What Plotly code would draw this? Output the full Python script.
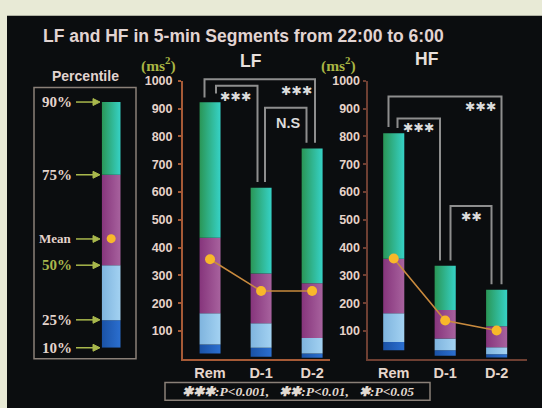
import plotly.graph_objects as go

W, H = 542, 408

categories = ["Rem", "D-1", "D-2"]
tick_vals_y = [100, 200, 300, 400, 500, 600, 700, 800, 900, 1000]

lf_p10 = [19, 8, 4]
lf_p25 = [52, 40, 19]
lf_p50 = [164, 128, 75]
lf_p75 = [435, 307, 272]
lf_p90 = [923, 615, 756]
lf_mean = [358, 244, 244]

hf_p10 = [31, 11, 5]
hf_p25 = [61, 31, 17]
hf_p50 = [164, 73, 42]
hf_p75 = [360, 176, 117]
hf_p90 = [811, 335, 248]
hf_mean = [361, 138, 102]

# schematic legend bar levels (10, 25, 50, 75, 90 percentile) and mean
legend_levels = [0, 28, 84, 176, 250]
legend_mean = 111

seg_colors = [
    ("#1a52a6", "#2b6fd0"),
    ("#7fb4de", "#a3d2f2"),
    ("#86357c", "#a8629e"),
    ("#2a9656", "#36d2c6"),
]

def px(x):
    return x / W

def py(y):
    return (H - y) / H

fig = go.Figure()

def add_box(c, lo, hi, half, xa, ya, cols):
    fig.add_trace(go.Scatter(
        x=[c - half, c + half, c + half, c - half, c - half],
        y=[lo, lo, hi, hi, lo],
        mode="lines", line=dict(width=0), fill="toself",
        fillcolor=cols[1],
        fillgradient=dict(type="horizontal", colorscale=[[0, cols[0]], [1, cols[1]]]),
        xaxis=xa, yaxis=ya, hoverinfo="skip", showlegend=False))

def add_panel(p10, p25, p50, p75, p90, mean, xa, ya):
    levels = [p10, p25, p50, p75, p90]
    for i in range(len(categories)):
        for s in range(4):
            add_box(i, levels[s][i], levels[s + 1][i], 0.205, xa, ya, seg_colors[s])
    fig.add_trace(go.Scatter(
        x=list(range(len(categories))), y=mean, mode="lines+markers",
        line=dict(color="#c98a3e", width=1.6),
        marker=dict(color="#f8b82a", size=10),
        xaxis=xa, yaxis=ya, hoverinfo="skip", showlegend=False, cliponaxis=False))

add_panel(lf_p10, lf_p25, lf_p50, lf_p75, lf_p90, lf_mean, "x", "y")
add_panel(hf_p10, hf_p25, hf_p50, hf_p75, hf_p90, hf_mean, "x2", "y2")

# legend bar
for s in range(4):
    add_box(0, legend_levels[s], legend_levels[s + 1], 0.5, "x3", "y3", seg_colors[s])
fig.add_trace(go.Scatter(x=[0], y=[legend_mean], mode="markers",
                         marker=dict(color="#f8b82a", size=9),
                         xaxis="x3", yaxis="y3", hoverinfo="skip",
                         showlegend=False, cliponaxis=False))

ydom = [py(358), py(75)]
tickfont = dict(family="Liberation Sans", size=12.5, color="#e6d3c9", weight="bold")

def yaxis(color, anchor, standoff):
    return dict(domain=ydom, range=[0, 1000], tickvals=tick_vals_y, showgrid=False,
                zeroline=False, showline=True, linecolor=color, linewidth=2,
                ticks="outside", ticklen=3, tickcolor=color, tickwidth=1.5,
                tickfont=tickfont, anchor=anchor, fixedrange=True,
                ticklabelstandoff=standoff)

def xaxis(dom, rng, color, anchor):
    return dict(domain=dom, range=rng, tickvals=list(range(len(categories))),
                ticktext=categories, showgrid=False, zeroline=False, showline=True,
                linecolor=color, linewidth=2, ticks="", tickfont=dict(
                    family="Liberation Sans", size=14.5, color="#e6d6cc", weight="bold"),
                anchor=anchor, fixedrange=True)

fig.update_layout(
    width=W, height=H, margin=dict(l=0, r=0, t=0, b=0),
    paper_bgcolor="#e8ead6", plot_bgcolor="rgba(0,0,0,0)",
    xaxis=xaxis([px(183), px(330)], [-0.53, 2.35], "#a65a36", "y"),
    yaxis=yaxis("#a65a36", "x", 3),
    xaxis2=xaxis([px(367.5), px(527)], [-0.51, 2.59], "#6e3f32", "y2"),
    yaxis2=yaxis("#6e3f32", "x2", 0),
    xaxis3=dict(domain=[px(101.7), px(120.7)], range=[-0.5, 0.5], visible=False, anchor="y3"),
    yaxis3=dict(domain=[py(346.7), py(96.7)], range=[0, 250], visible=False, anchor="x3"),
)

shapes = []
# black background
shapes.append(dict(type="rect", xref="paper", yref="paper", x0=px(7), x1=1, y0=0, y1=py(9),
                   fillcolor="#0b0d0f", line=dict(width=0), layer="below"))
# legend box
shapes.append(dict(type="rect", xref="paper", yref="paper", x0=px(34), x1=px(136),
                   y0=py(358), y1=py(82), line=dict(color="#8a8078", width=1.5)))
# bottom p-value box
shapes.append(dict(type="rect", xref="paper", yref="paper", x0=px(165), x1=px(430),
                   y0=py(400), y1=py(382), line=dict(color="#8a8078", width=1.5)))

def bracket(xl, yl, xr, yr, ytop):
    shapes.append(dict(type="path", xref="paper", yref="paper",
                       path=f"M {px(xl)},{py(yl)} L {px(xl)},{py(ytop)} L {px(xr)},{py(ytop)} L {px(xr)},{py(yr)}",
                       line=dict(color="#8e8e8e", width=2)))

# LF brackets
bracket(204.5, 92, 315, 138, 73.5)
bracket(216, 88, 257.5, 178, 80)
bracket(265, 178, 306.5, 138, 102.5)
# HF brackets
bracket(388.5, 122, 501.5, 282, 91)
bracket(397.5, 123, 440, 258, 113.5)
bracket(450.5, 258, 491.5, 282, 202.5)

# legend arrows (line + head)
legend_labels = [("90%", 96.7, "#e4d4cc", 15), ("75%", 170.7, "#e4d4cc", 15),
                 ("Mean", 236, "#e4d4cc", 13), ("50%", 262.7, "#a9b84c", 15),
                 ("25%", 318.3, "#e4d4cc", 15), ("10%", 346.7, "#e4d4cc", 15)]
for lab, yy, col, sz in legend_labels:
    shapes.append(dict(type="line", xref="paper", yref="paper", x0=px(76), x1=px(95),
                       y0=py(yy), y1=py(yy), line=dict(color="#a9b84c", width=1.5)))
    shapes.append(dict(type="path", xref="paper", yref="paper",
                       path=f"M {px(93)},{py(yy-3.5)} L {px(100)},{py(yy)} L {px(93)},{py(yy+3.5)} Z",
                       fillcolor="#a9b84c", line=dict(color="#a9b84c", width=1)))

fig.update_layout(shapes=shapes)

ann = []

def txt(x, y, text, size, color, family="Liberation Sans", bold=True, italic=False, xanchor="center"):
    ann.append(dict(x=px(x), y=py(y), xref="paper", yref="paper", text=text, showarrow=False,
                    xanchor=xanchor, yanchor="middle",
                    font=dict(family=family, size=size, color=color,
                              weight="bold" if bold else "normal",
                              style="italic" if italic else "normal")))

txt(243.5, 30, "LF and HF in 5-min Segments from 22:00 to 6:00", 17.5, "#e2d4d2")
txt(158, 58, "(ms<sup>2</sup>)", 15.5, "#a9b443", family="Liberation Serif")
txt(338, 58, "(ms<sup>2</sup>)", 15.5, "#a9b443", family="Liberation Serif")
txt(251, 55, "LF", 17.5, "#e8e0dc")
txt(427, 53, "HF", 17.5, "#e8e0dc")
txt(85, 70, "Percentile", 14, "#e2d4d0")

star = "\u2731"
sf = 12.5
txt(296.5, 85, star * 3, sf, "#dcdcdc", family="DejaVu Sans")
txt(235, 91, star * 3, sf, "#dcdcdc", family="DejaVu Sans")
txt(288, 118, "N.S", 14.5, "#dcdcdc")
txt(480, 101, star * 3, sf, "#dcdcdc", family="DejaVu Sans")
txt(418, 123, star * 3, sf, "#dcdcdc", family="DejaVu Sans")
txt(471.5, 213, star * 2, sf, "#dcdcdc", family="DejaVu Sans")

for lab, yy, col, sz in legend_labels:
    txt(74, yy, lab, sz, col, family="Liberation Serif", xanchor="right")

txt(298, 391, f"{star*3}:<i>P</i>&lt;0.001,   {star*2}:<i>P</i>&lt;0.01,   {star}:<i>P</i>&lt;0.05",
    13.5, "#e2dad2", family="Liberation Serif", italic=True)

fig.update_layout(annotations=ann)
fig.write_html("out.html")
